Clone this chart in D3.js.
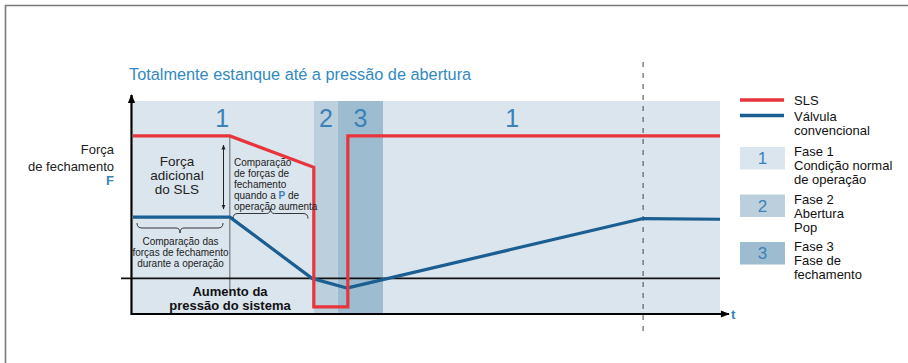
<!DOCTYPE html>
<html><head><meta charset="utf-8">
<script src="https://cdn.jsdelivr.net/npm/d3@7"></script>
<style>html,body{margin:0;padding:0;background:#fff;}svg{display:block;font-family:"Liberation Sans",Arial,sans-serif;}</style>
</head><body><svg id="c" width="908" height="363"></svg>
<script>
// ---- data ----
const slsTime   = [0, 16.5, 30.8, 30.8, 36.6, 36.6, 100];
const slsForce  = [10, 10, 7.8, -2.0, -2.0, 10, 10];
const valveTime  = [0, 16.5, 30.5, 36.4, 86.9, 100];
const valveForce = [4.3, 4.3, 0, -0.68, 4.2, 4.15];
const phaseStart = [0, 30.8, 34.9, 42.6];
const phaseEnd   = [30.8, 34.9, 42.6, 100];
const phaseId    = [1, 2, 3, 1];
const phaseLabelAt = [15.2, 32.85, 38.75, 64.6];
const legendSeries = ["SLS", "Válvula\nconvencional"];
const legendPhases = ["Fase 1\nCondição normal\nde operação", "Fase 2\nAbertura\nPop", "Fase 3\nFase de\nfechamento"];
const markerTime = 86.9;   // dashed line
const changeTime = 16.5;   // pressure starts rising

const svg = d3.select("#c");
const x = d3.scaleLinear().domain([0, 100]).range([133, 720]);
const y = d3.scaleLinear().domain([-2.5, 12.45]).range([314, 101]);
const phaseFill = {1: "#dbe5ee", 2: "#bccfdd", 3: "#9dbcd0"};
const red = "#e8343b", blue = "#1b5e92", txtBlue = "#3b82b8";

// frame
svg.append("line").attr("x1", 5).attr("x2", 908).attr("y1", 5.5).attr("y2", 5.5).attr("stroke", "#7a7a7a").attr("stroke-width", 1.6);
svg.append("line").attr("x1", 5.5).attr("x2", 5.5).attr("y1", 5).attr("y2", 363).attr("stroke", "#7a7a7a").attr("stroke-width", 1.6);

// title
svg.append("text").attr("x", 129).attr("y", 80).attr("fill", "#3189c2").attr("font-size", 16.3).text("Totalmente estanque até a pressão de abertura");

// phase bands
phaseStart.forEach((s, i) => {
  svg.append("rect").attr("x", x(s)).attr("y", y(12.45)).attr("width", x(phaseEnd[i]) - x(s)).attr("height", y(-2.5) - y(12.45)).attr("fill", phaseFill[phaseId[i]]);
  svg.append("text").attr("x", x(phaseLabelAt[i])).attr("y", 127).attr("text-anchor", "middle").attr("fill", txtBlue).attr("font-size", 25).attr("font-weight", 300).text(phaseId[i]);
});

// dashed marker
svg.append("line").attr("x1", x(markerTime)).attr("x2", x(markerTime)).attr("y1", 62).attr("y2", 333).attr("stroke", "#444").attr("stroke-width", 1).attr("stroke-dasharray", "5,6");

// vertical line at change
svg.append("line").attr("x1", x(changeTime)).attr("x2", x(changeTime)).attr("y1", y(10)).attr("y2", 290).attr("stroke", "#666").attr("stroke-width", 1);

// baseline (zero force)
svg.append("line").attr("x1", 121).attr("x2", x(100)).attr("y1", y(0)).attr("y2", y(0)).attr("stroke", "#111").attr("stroke-width", 1.6);

// axes
svg.append("defs").html('<marker id="ah" viewBox="0 0 10 10" refX="9" refY="5" markerUnits="userSpaceOnUse" markerWidth="10" markerHeight="9" orient="auto"><path d="M0,1L10,5L0,9z" fill="#000"/></marker>' +
  '<marker id="sm" viewBox="0 0 10 10" refX="9" refY="5" markerUnits="userSpaceOnUse" markerWidth="5" markerHeight="5" orient="auto-start-reverse"><path d="M0,1L10,5L0,9z" fill="#222"/></marker>');
svg.append("line").attr("x1", 131).attr("x2", 729).attr("y1", y(-2.5)).attr("y2", y(-2.5)).attr("stroke", "#000").attr("stroke-width", 2.2).attr("marker-end", "url(#ah)");
svg.append("line").attr("x1", 131.5).attr("x2", 131.5).attr("y1", y(-2.5) + 1).attr("y2", 95).attr("stroke", "#000").attr("stroke-width", 2.2).attr("marker-end", "url(#ah)");
svg.append("text").attr("x", 731).attr("y", 319).attr("fill", txtBlue).attr("font-size", 13.5).attr("font-weight", "bold").text("t");

// series lines
const line = d3.line().x(d => x(d[0])).y(d => y(d[1]));
svg.append("path").datum(valveTime.map((t, i) => [t, valveForce[i]])).attr("d", line).attr("fill", "none").attr("stroke", blue).attr("stroke-width", 3.2).attr("stroke-linejoin", "round");
svg.append("path").datum(slsTime.map((t, i) => [t, slsForce[i]])).attr("d", line).attr("fill", "none").attr("stroke", red).attr("stroke-width", 3.2).attr("stroke-linejoin", "miter");

// y label
const yl = svg.append("g").attr("font-size", 13).attr("text-anchor", "end").attr("fill", "#222");
yl.append("text").attr("x", 114).attr("y", 154).text("Força");
yl.append("text").attr("x", 114).attr("y", 171).text("de fechamento");
yl.append("text").attr("x", 114).attr("y", 185).attr("fill", txtBlue).attr("font-weight", "bold").text("F");

// annotation: Força adicional do SLS
["Força", "adicional", "do SLS"].forEach((s, i) => svg.append("text").attr("x", 177).attr("y", 166 + i * 14).attr("text-anchor", "middle").attr("font-size", 13.5).attr("fill", "#222").text(s));
svg.append("line").attr("x1", 223.5).attr("x2", 223.5).attr("y1", 145).attr("y2", 209).attr("stroke", "#222").attr("stroke-width", 1).attr("marker-start", "url(#sm)").attr("marker-end", "url(#sm)");

// annotation: comparison when P rises
const cl = [["Comparação"], ["de forças de"], ["fechamento"], ["quando a ", ["P", true], " de"], ["operação aumenta"]];
cl.forEach((parts, i) => {
  const t = svg.append("text").attr("x", 234).attr("y", 165.5 + i * 11).attr("font-size", 10).attr("fill", "#222");
  parts.forEach(p => {
    if (Array.isArray(p)) t.append("tspan").attr("fill", txtBlue).attr("font-weight", "bold").text(p[0]);
    else t.append("tspan").text(p);
  });
});
// braces
function brace(x1, x2, yb, dir) {
  const m = (x1 + x2) / 2, h = 5 * dir;
  return `M${x1},${yb - h} Q${x1},${yb} ${x1 + 5},${yb} L${m - 4},${yb} Q${m},${yb} ${m},${yb + h} Q${m},${yb} ${m + 4},${yb} L${x2 - 5},${yb} Q${x2},${yb} ${x2},${yb - h}`;
}
svg.append("path").attr("d", brace(233, 308, 213.5, -1)).attr("fill", "none").attr("stroke", "#222").attr("stroke-width", 0.9);
svg.append("path").attr("d", brace(137, 223, 228, 1)).attr("fill", "none").attr("stroke", "#222").attr("stroke-width", 0.9);
["Comparação das", "forças de fechamento", "durante a operação"].forEach((s, i) =>
  svg.append("text").attr("x", 180.5).attr("y", 245 + i * 11).attr("text-anchor", "middle").attr("font-size", 10).attr("fill", "#222").text(s));

// annotation: Aumento da pressão
["Aumento da", "pressão do sistema"].forEach((s, i) =>
  svg.append("text").attr("x", 230).attr("y", 296 + i * 13.5).attr("text-anchor", "middle").attr("font-size", 13).attr("font-weight", "bold").attr("fill", "#111").text(s));

// legend
const lg = svg.append("g").attr("font-size", 13).attr("fill", "#111");
[red, blue].forEach((c, i) => {
  lg.append("line").attr("x1", 740).attr("x2", 784).attr("y1", 100 + i * 15.5).attr("y2", 100 + i * 15.5).attr("stroke", c).attr("stroke-width", 3.4);
  legendSeries[i].split("\n").forEach((s, j) => lg.append("text").attr("x", 794).attr("y", 104.5 + i * 16 + j * 14).text(s));
});
legendPhases.forEach((lab, i) => {
  const by = 147 + i * 47.5;
  lg.append("rect").attr("x", 740).attr("y", by).attr("width", 45).attr("height", 22.5).attr("fill", phaseFill[i + 1]);
  lg.append("text").attr("x", 762.5).attr("y", by + 17).attr("text-anchor", "middle").attr("font-size", 17).attr("fill", txtBlue).attr("font-weight", 300).text(i + 1);
  lab.split("\n").forEach((s, j) => lg.append("text").attr("x", 794).attr("y", by + 9 + j * 14).text(s));
});
</script></body></html>
